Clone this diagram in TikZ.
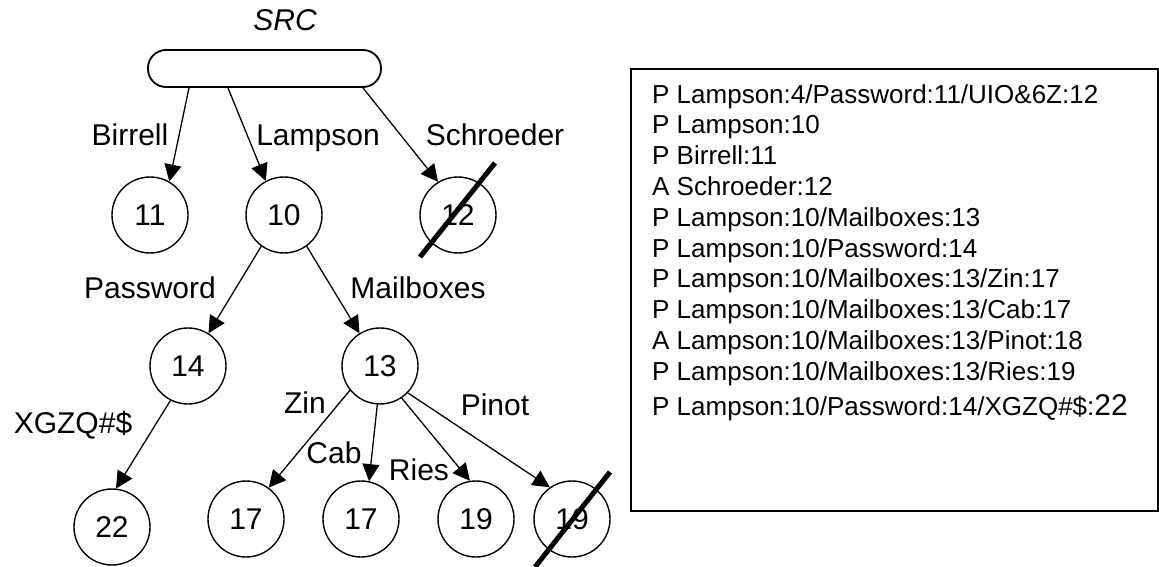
\documentclass[tikz,border=0pt]{standalone}
\usepackage{fontspec}
\setmainfont{Liberation Sans}
\usetikzlibrary{arrows.meta,positioning}
\tikzset{
    inode/.style={draw, circle, line width=1.4bp, minimum size=76bp, inner sep=0pt, font=\fontsize{30bp}{30bp}\selectfont},
    elabel/.style={inner sep=0pt, text height=21.6bp, text depth=0pt, font=\fontsize{30bp}{30bp}\selectfont},
    edge/.style={line width=1.3bp, -{Triangle[length=17bp,width=17bp]}},
    strike/.style={line width=5bp},
}

\begin{document}
\begin{tikzpicture}[x=1bp,y=-1bp]
    \useasboundingbox (0,0) rectangle (1159,567);

    % Root of the tree.
    \node[elabel, font=\itshape\fontsize{30bp}{30bp}\selectfont] (srclabel) at (285,20) {SRC};
    \node[draw, line width=1.8bp, rounded corners=18bp, minimum width=233bp, minimum height=37bp] (root) at (264.5,68.5) {};

    % First level.
    \node[inode] (n11) at (150,215) {11};
    \node[inode] (n10) at (284,215) {10};
    \node[inode] (n12) at (458,215) {12};

    \draw[edge] ([xshift=-75.5bp]root.south) -- (n11.60);
    \draw[edge] ([xshift=-36.5bp]root.south) -- (n10.118);
    \draw[edge] ([xshift=98.5bp]root.south) -- (n12.121);

    \node[elabel] (lbirrell) at (130,135) {Birrell};
    \node[elabel] (llampson) at (318,135) {Lampson};
    \node[elabel] (lschroeder) at (495,135) {Schroeder};

    % Second level.
    \node[inode] (n14) at (188,366) {14};
    \node[inode] (n13) at (380,366) {13};

    \draw[edge] (n10.-126) -- (n14.58);
    \draw[edge] (n10.-54) -- (n13.122);

    \node[elabel] (lpassword) at (150,288) {Password};
    \node[elabel] (lmailboxes) at (418,288) {Mailboxes};

    % Leaves.
    \node[inode] (n22) at (112,527) {22};
    \node[inode] (n17a) at (246,519) {17};
    \node[inode] (n17b) at (361,519) {17};
    \node[inode] (n19a) at (476,519) {19};
    \node[inode] (n19b) at (572,519) {19};

    \draw[edge] (n14.-117) -- (n22.84);
    \draw[edge] (n13.-141) -- (n17a.54);
    \draw[edge] (n13.-94) -- (n17b.78);
    \draw[edge] (n13.-56) -- (n19a.99);
    \draw[edge] (n13.-44) -- (n19b.125);

    \node[elabel] (lxgzq) at (73,423) {XGZQ\#\$};
    \node[elabel] (lzin) at (305,403) {Zin};
    \node[elabel] (lcab) at (334,453) {Cab};
    \node[elabel] (lries) at (419,470) {Ries};
    \node[elabel] (lpinot) at (495,405) {Pinot};

    % Cross out the dead entries.
    \draw[strike] ([shift={(37,-52)}]n12.center) -- ([shift={(-38,42)}]n12.center);
    \draw[strike] ([shift={(38,-47)}]n19b.center) -- ([shift={(-37,48)}]n19b.center);

    % Log of the entries.
    \node[draw, line width=1.8bp, anchor=north west, minimum width=527bp, minimum height=442bp, inner sep=0pt] (logbox) at (630,68) {};
    \node[anchor=north west, align=left, inner sep=0pt, font=\fontsize{26bp}{30.8bp}\selectfont] (log) at (652,84) {%
        P Lampson:4/Password:11/UIO\&6Z:12\\
        P Lampson:10\\
        P Birrell:11\\
        A Schroeder:12\\
        P Lampson:10/Mailboxes:13\\
        P Lampson:10/Password:14\\
        P Lampson:10/Mailboxes:13/Zin:17\\
        P Lampson:10/Mailboxes:13/Cab:17\\
        A Lampson:10/Mailboxes:13/Pinot:18\\
        P Lampson:10/Mailboxes:13/Ries:19\\[4bp]
        P Lampson:10/Password:14/XGZQ\#\$:{\fontsize{30bp}{30bp}\selectfont 22}};

\end{tikzpicture}
\end{document}
